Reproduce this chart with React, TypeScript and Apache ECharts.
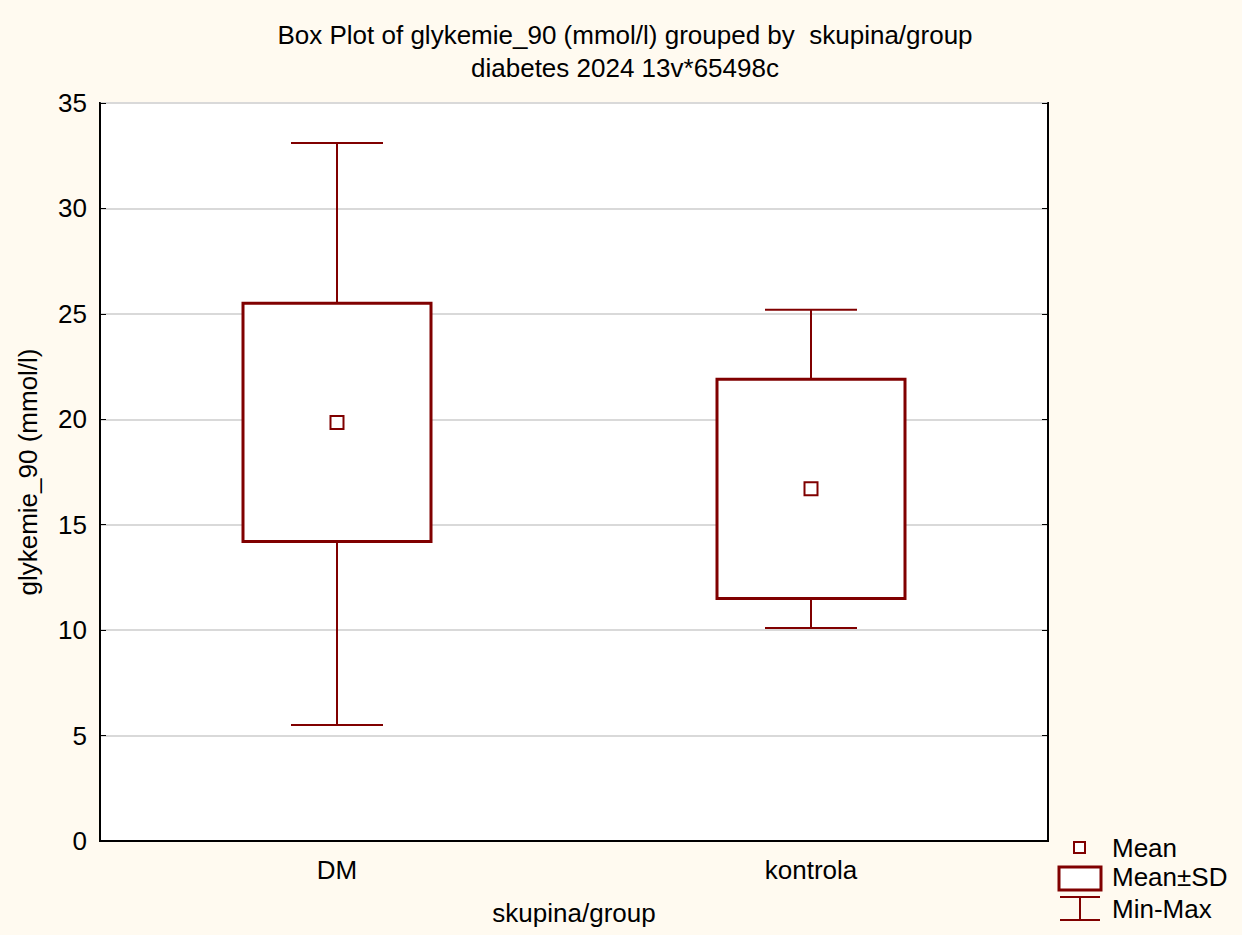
import React, { useEffect, useRef } from "react";
import * as echarts from "echarts";

const categories = ["DM", "kontrola"];
const minValues = [5.5, 10.1];
const sdLow = [14.2, 11.5];
const sdHigh = [25.5, 21.9];
const maxValues = [33.1, 25.2];
const means = [19.85, 16.7];
const yTicks = { min: 0, max: 35, interval: 5 };

const RED = "#800000";
const FONT = "'Liberation Sans', Arial, sans-serif";
const FS = 26;

export default function App() {
  const ref = useRef<HTMLDivElement>(null);
  useEffect(() => {
    if (!ref.current) return;
    const chart = echarts.init(ref.current, undefined, { renderer: "svg" });
    const boxData = categories.map((_, i) => [i, minValues[i], sdLow[i], sdHigh[i], maxValues[i], means[i]]);
    const legendText = (text: string, y: number) => ({
      type: "text",
      x: 1112,
      y,
      style: { text, fontFamily: FONT, fontSize: FS, fill: "#000", textVerticalAlign: "middle" },
    });
    chart.setOption({
      animation: false,
      backgroundColor: "#fffaf0",
      grid: {
        left: 100,
        right: 194,
        top: 103,
        bottom: 94,
        show: true,
        backgroundColor: "#ffffff",
        borderColor: "#000000",
        borderWidth: 2,
      },
      xAxis: {
        type: "category",
        data: categories,
        boundaryGap: true,
        name: "skupina/group",
        nameLocation: "middle",
        nameGap: 59,
        nameTextStyle: { fontFamily: FONT, fontSize: FS, color: "#000" },
        axisLine: { lineStyle: { color: "#000", width: 2 } },
        axisTick: { inside: true, alignWithLabel: true, length: 6, lineStyle: { color: "#000", width: 1 } },
        axisLabel: { fontFamily: FONT, fontSize: FS, color: "#000", margin: 16 },
        splitLine: { show: false },
      },
      yAxis: [
        {
          type: "value",
          min: yTicks.min,
          max: yTicks.max,
          interval: yTicks.interval,
          name: "glykemie_90 (mmol/l)",
          nameLocation: "middle",
          nameGap: 59,
          nameTextStyle: { fontFamily: FONT, fontSize: FS, color: "#000" },
          axisLine: { show: true, lineStyle: { color: "#000", width: 2 } },
          axisTick: { show: true, inside: true, length: 6, lineStyle: { color: "#000", width: 1 } },
          axisLabel: { fontFamily: FONT, fontSize: FS, color: "#000", margin: 13 },
          splitLine: { show: true, lineStyle: { color: "#d9d9d9", width: 2 } },
        },
        {
          type: "value",
          position: "right",
          min: yTicks.min,
          max: yTicks.max,
          interval: yTicks.interval,
          axisLine: { show: true, lineStyle: { color: "#000", width: 2 } },
          axisTick: { show: true, inside: true, length: 6, lineStyle: { color: "#000", width: 1 } },
          axisLabel: { show: false },
          splitLine: { show: false },
        },
      ],
      graphic: [
        {
          type: "text",
          x: 625,
          y: 35,
          style: {
            text: "Box Plot of glykemie_90 (mmol/l) grouped by  skupina/group",
            fontFamily: FONT,
            fontSize: 26,
            fill: "#000",
            textAlign: "center",
            textVerticalAlign: "middle",
          },
        },
        {
          type: "text",
          x: 625,
          y: 68,
          style: {
            text: "diabetes 2024 13v*65498c",
            fontFamily: FONT,
            fontSize: 26,
            fill: "#000",
            textAlign: "center",
            textVerticalAlign: "middle",
          },
        },
        // legend
        { type: "rect", shape: { x: 1074, y: 842, width: 11, height: 11 }, style: { fill: "#fff", stroke: RED, lineWidth: 2 } },
        legendText("Mean", 848),
        { type: "rect", shape: { x: 1059, y: 867, width: 42, height: 23 }, style: { fill: "#fff", stroke: RED, lineWidth: 3 } },
        legendText("Mean±SD", 877),
        { type: "line", shape: { x1: 1060, y1: 897, x2: 1100, y2: 897 }, style: { stroke: RED, lineWidth: 2 } },
        { type: "line", shape: { x1: 1080, y1: 897, x2: 1080, y2: 920 }, style: { stroke: RED, lineWidth: 2 } },
        { type: "line", shape: { x1: 1060, y1: 920, x2: 1100, y2: 920 }, style: { stroke: RED, lineWidth: 2 } },
        legendText("Min-Max", 909),
      ],
      series: [
        {
          type: "custom",
          data: boxData,
          encode: { x: 0, y: [1, 2, 3, 4, 5] },
          renderItem: (params: any, api: any) => {
            const idx = api.value(0);
            const x = api.coord([idx, 0])[0];
            const yMin = api.coord([idx, api.value(1)])[1];
            const yLo = api.coord([idx, api.value(2)])[1];
            const yHi = api.coord([idx, api.value(3)])[1];
            const yMax = api.coord([idx, api.value(4)])[1];
            const yMean = api.coord([idx, api.value(5)])[1];
            const bw = 188;
            const cw = 92;
            const ms = 13;
            const lineStyle = { stroke: RED, lineWidth: 2 };
            return {
              type: "group",
              children: [
                { type: "line", shape: { x1: x, y1: yMax, x2: x, y2: yHi }, style: lineStyle },
                { type: "line", shape: { x1: x, y1: yLo, x2: x, y2: yMin }, style: lineStyle },
                { type: "line", shape: { x1: x - cw / 2, y1: yMax, x2: x + cw / 2, y2: yMax }, style: lineStyle },
                { type: "line", shape: { x1: x - cw / 2, y1: yMin, x2: x + cw / 2, y2: yMin }, style: lineStyle },
                {
                  type: "rect",
                  shape: { x: x - bw / 2, y: yHi, width: bw, height: yLo - yHi },
                  style: { fill: "#fff", stroke: RED, lineWidth: 3 },
                },
                {
                  type: "rect",
                  shape: { x: x - ms / 2, y: yMean - ms / 2, width: ms, height: ms },
                  style: { fill: "#fff", stroke: RED, lineWidth: 2 },
                },
              ],
            };
          },
        },
      ],
    });
    return () => chart.dispose();
  }, []);
  return <div ref={ref} style={{ width: 1242, height: 935, position: "absolute", left: 0, top: 0 }} />;
}
